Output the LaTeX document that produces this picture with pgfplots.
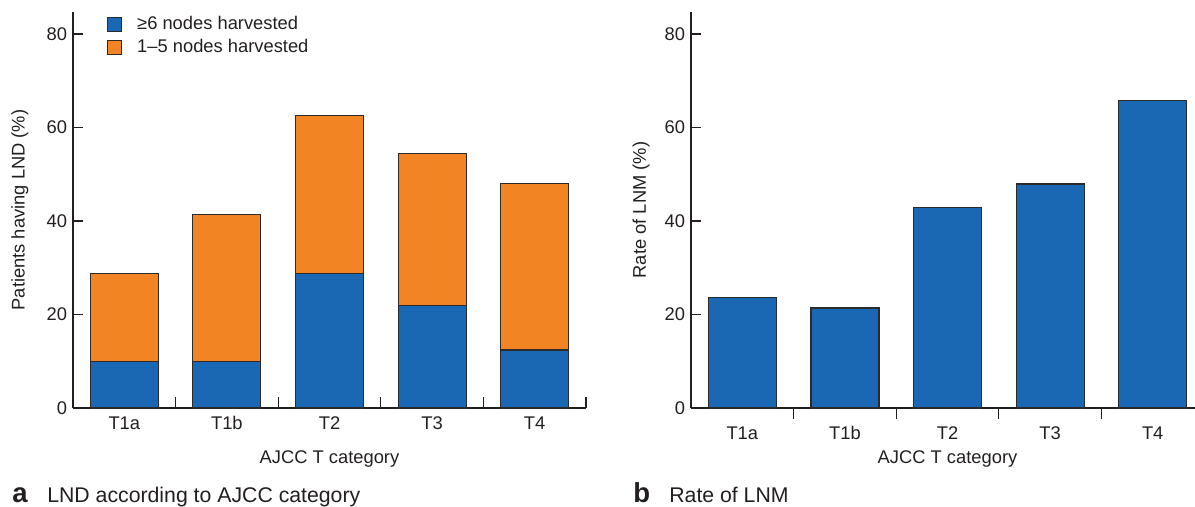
\documentclass[border=0pt]{standalone}
\usepackage{fontspec}
\setmainfont{Liberation Sans}
\usepackage{pgfplots}
\pgfplotsset{compat=1.18}
\definecolor{bblue}{HTML}{1A67B3}
\definecolor{borange}{HTML}{F28424}
\definecolor{edge}{HTML}{2B2B2B}
\definecolor{txt}{HTML}{231F20}
\pgfplotsset{
  panel/.style={
    scale only axis,
    height=237.6pt,
    axis x line=bottom, axis y line=left,
    axis line style={-, line width=0.8pt, draw=txt},
    tick align=inside,
    tick style={line width=0.8pt, draw=txt},
    major tick length=6pt, minor tick length=6.5pt,
    xmin=-0.5,
    ymin=0, ymax=84.7, ytick={0,20,40,60,80},
    xtick={0,1,2,3,4}, xticklabels={T1a,T1b,T2,T3,T4},
    major x tick style={draw=none},
    minor xtick={0.5,1.5,2.5,3.5,4.5},
    /pgf/number format/assume math mode=true,
    ticklabel style={font=\fontsize{11}{13}\selectfont, text=txt},
    xticklabel style={yshift=-1.5pt},
    label style={font=\fontsize{11}{13}\selectfont, text=txt},
    xlabel style={at={(axis cs:2,0)}, anchor=center, yshift=-30.6pt},
    bar width=40.8pt,
    every axis plot/.append style={draw=edge, line width=0.7pt},
  }
}
\begin{document}
\begin{tikzpicture}
\useasboundingbox (0,0) rectangle (717pt,303.6pt);
% Panel a
\begin{axis}[panel, at={(43.8pt,58.8pt)}, anchor=south west,
  width=307.8pt, xmax=4.5, ybar stacked,
  xlabel={AJCC T category},
  ylabel={Patients having LND (\%)},
  ylabel style={at={(axis description cs:0,0.5)}, anchor=center, yshift=31.8pt},
  legend style={at={(axis description cs:0.055,1.005)}, anchor=north west, draw=none, fill=none,
    font=\fontsize{11}{13}\selectfont, text=txt, row sep=1.5pt,
    nodes={inner sep=1.5pt}},
  legend cell align=left,
  legend image code/.code={\draw[#1, draw=edge, line width=0.6pt] (0pt,-4.2pt) rectangle (8.4pt,4.2pt);
    \path[draw=none, fill=none] (0pt,0pt) -- (16.6pt,0pt);},
]
\addplot[fill=bblue] coordinates {(0,10) (1,10) (2,28.7) (3,22) (4,12.4)};
\addlegendentry{≥6 nodes harvested}
\addplot[fill=borange] coordinates {(0,18.7) (1,31.3) (2,33.8) (3,32.5) (4,35.7)};
\addlegendentry{1–5 nodes harvested}
\end{axis}
% Panel b
\begin{axis}[panel, at={(414.6pt,58.8pt)}, anchor=south west,
  width=302.4pt, xmax=4.412, ybar,
  xlabel={AJCC T category},
  ylabel={Rate of LNM (\%)},
  ylabel style={at={(axis description cs:0,0.5)}, anchor=center, yshift=30pt},
]
\addplot[fill=bblue] coordinates {(0,23.7) (1,21.4) (2,42.8) (3,47.9) (4,65.7)};
\end{axis}
\node[anchor=base west, inner sep=0pt, font=\bfseries\fontsize{16.5}{18}\selectfont, text=txt] at (7.2pt,2.0pt) {a};
\node[anchor=base west, inner sep=0pt, font=\fontsize{12.75}{15}\selectfont, text=txt] at (28.2pt,2.0pt) {LND according to AJCC category};
\node[anchor=base west, inner sep=0pt, font=\bfseries\fontsize{16.5}{18}\selectfont, text=txt] at (379.8pt,2.0pt) {b};
\node[anchor=base west, inner sep=0pt, font=\fontsize{12.75}{15}\selectfont, text=txt] at (401.4pt,2.0pt) {Rate of LNM};
\end{tikzpicture}
\end{document}
